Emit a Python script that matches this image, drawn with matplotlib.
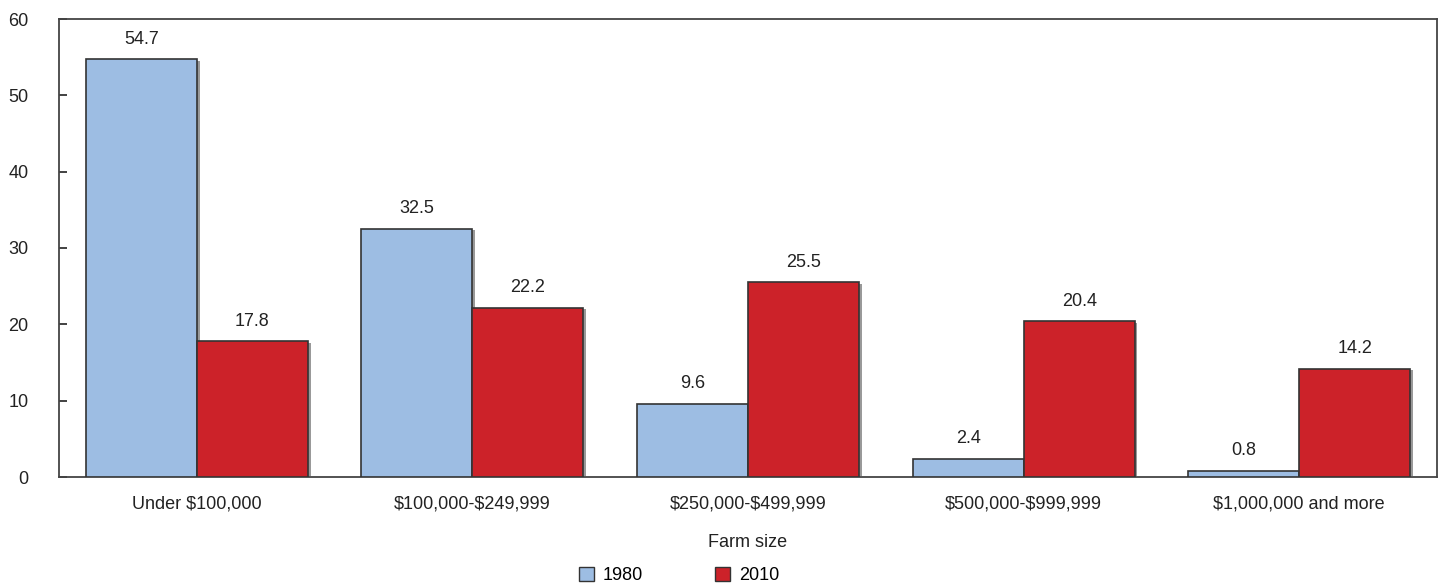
import matplotlib
matplotlib.use('Agg')
import matplotlib.pyplot as plt
import matplotlib.patheffects as pe
import numpy as np

categories = ['Under \\$100,000', '\\$100,000-\\$249,999', '\\$250,000-\\$499,999',
              '\\$500,000-\\$999,999', '\\$1,000,000 and more']
years = ['1980', '2010']
vals_1980 = [54.7, 32.5, 9.6, 2.4, 0.8]
vals_2010 = [17.8, 22.2, 25.5, 20.4, 14.2]
colors = ['#9dbde3', '#cc2229']

plt.rcParams['font.family'] = ['Liberation Sans Narrow', 'Liberation Sans', 'DejaVu Sans']
fs = 13

fig = plt.figure(figsize=(14.48, 5.84), dpi=100)
ax = fig.add_axes([59 / 1448, 1 - 477 / 584, 1378 / 1448, 458 / 584])

x = np.arange(len(categories))
w = 0.403
shadow = [pe.SimplePatchShadow(offset=(2, -1), shadow_rgbFace='#555555', alpha=0.6), pe.Normal()]
for i, (vals, yr) in enumerate(zip([vals_1980, vals_2010], years)):
    bars = ax.bar(x + (i - 0.5) * w, vals, w, color=colors[i], edgecolor='#333333',
                  linewidth=1.2, label=yr, zorder=3)
    for b in bars:
        b.set_path_effects(shadow)
    for xi, v in zip(x + (i - 0.5) * w, vals):
        ax.text(xi, v + 1.5, f'{v}', ha='center', va='bottom', fontsize=fs, color='#222222')

ax.set_xlim(-0.5, len(categories) - 0.5)
ax.set_ylim(0, 60)
ax.set_yticks(range(0, 61, 10))
ax.set_xticks(x)
ax.set_xticklabels(categories)
ax.tick_params(axis='x', length=0, pad=13, labelsize=fs, colors='#222222')
ax.tick_params(axis='y', direction='in', length=6, width=1.2, pad=22, labelsize=fs,
               colors='#222222')
for s in ax.spines.values():
    s.set_color('#444444')
    s.set_linewidth(1.3)
ax.set_xlabel('Farm size', fontsize=fs, labelpad=16, color='#222222')

leg = fig.legend(loc='lower center', bbox_to_anchor=(0.469, -0.028), ncol=2, frameon=False,
                 handlelength=0.8, handleheight=0.8, columnspacing=4, handletextpad=0.5,
                 fontsize=fs)
for h in leg.legend_handles:
    h.set_path_effects([])
    h.set_linewidth(1.0)

fig.savefig('out.png', dpi=100)
